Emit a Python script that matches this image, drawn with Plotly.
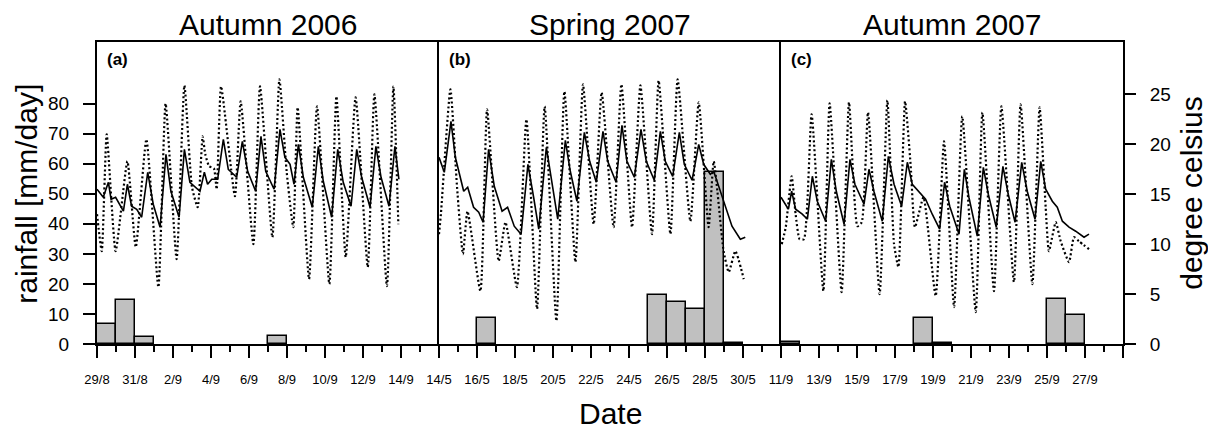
import plotly.graph_objects as go
from plotly.subplots import make_subplots

# ---------------- data ----------------
panel_titles = ["Autumn 2006", "Spring 2007", "Autumn 2007"]
panel_tags = ["(a)", "(b)", "(c)"]

labels_a = ["29/8", "31/8", "2/9", "4/9", "6/9", "8/9", "10/9", "12/9", "14/9"]
labels_b = ["14/5", "16/5", "18/5", "20/5", "22/5", "24/5", "26/5", "28/5", "30/5"]
labels_c = ["11/9", "13/9", "15/9", "17/9", "19/9", "21/9", "23/9", "25/9", "27/9"]

# daily rainfall [mm/day], one value per day from the first date of each panel
rain_a = [6.5, 14.5, 2.3, 0, 0, 0, 0, 0, 0, 2.6, 0, 0, 0, 0, 0, 0]
rain_b = [0, 0, 8.8, 0, 0, 0, 0, 0, 0, 0, 0, 16.2, 14.1, 11.5, 57.3, 0.4]
rain_c = [0.8, 0, 0, 0, 0, 0, 0, 8.5, 0.3, 0, 0, 0, 0, 0, 14.9, 9.8]

# temperatures (time in days since first date of the panel, degree celsius)
dotted_a = [(0.0, 13.0), (0.25, 9.3), (0.51, 21.0), (0.98, 9.3), (1.6, 18.3), (2.04, 9.7),
            (2.6, 20.5), (3.23, 5.7), (3.61, 24.1), (4.19, 8.5), (4.6, 25.9), (5.0, 15.7),
            (5.3, 13.7), (5.56, 20.8), (5.7, 19.0), (5.9, 17.8), (6.15, 17.6), (6.3, 15.5),
            (6.53, 25.8), (7.26, 14.8), (7.56, 24.3), (8.23, 10.0), (8.58, 25.8), (9.23, 10.7),
            (9.6, 26.5), (9.98, 17.3), (10.33, 11.7), (10.56, 23.7), (11.16, 6.5), (11.58, 23.8),
            (12.23, 6.0), (12.6, 24.8), (13.09, 8.7), (13.61, 24.7), (14.25, 7.7), (14.6, 25.0),
            (15.26, 5.8), (15.6, 25.8), (15.86, 12.0)]
solid_a = [(0.0, 15.5), (0.33, 14.7), (0.6, 16.2), (0.74, 14.5), (0.98, 14.7), (1.12, 14.2),
           (1.39, 13.3), (1.6, 16.0), (1.82, 13.8), (2.09, 13.5), (2.35, 12.7), (2.67, 17.2),
           (2.96, 14.0), (3.32, 11.7), (3.63, 19.0), (3.89, 15.3), (4.32, 12.7), (4.6, 19.5),
           (4.89, 16.2), (5.42, 15.3), (5.65, 17.2), (5.82, 16.0), (6.04, 16.5), (6.35, 16.5),
           (6.65, 20.5), (6.91, 17.5), (7.35, 16.7), (7.65, 20.3), (7.93, 17.3), (8.35, 15.3),
           (8.63, 20.8), (8.88, 17.3), (9.32, 15.5), (9.63, 21.5), (9.89, 18.7), (10.16, 18.0),
           (10.37, 16.0), (10.6, 20.0), (10.86, 16.7), (11.33, 13.7), (11.65, 19.8), (11.91, 16.3),
           (12.35, 12.7), (12.67, 19.5), (12.96, 16.2), (13.37, 13.8), (13.67, 19.5), (13.93, 16.7),
           (14.37, 13.7), (14.68, 19.8), (14.95, 16.7), (15.37, 13.8), (15.68, 19.8), (15.89, 16.5)]

dotted_b = [(0.0, 11.0), (0.1, 13.0), (0.6, 25.5), (0.95, 15.7), (1.26, 9.0), (1.5, 13.3),
            (2.18, 5.3), (2.53, 23.5), (3.14, 8.3), (3.5, 12.2), (4.1, 5.7), (4.6, 22.5),
            (5.16, 3.5), (5.56, 23.8), (6.18, 2.3), (6.6, 25.3), (7.18, 8.2), (7.58, 26.0),
            (8.14, 12.0), (8.56, 25.2), (9.19, 11.7), (9.6, 26.0), (10.16, 11.7), (10.6, 25.9),
            (11.21, 11.0), (11.56, 26.4), (12.18, 11.0), (12.56, 26.5), (13.23, 12.3), (13.67, 24.2),
            (14.19, 11.7), (14.46, 18.3), (14.98, 9.3), (15.25, 7.2), (15.6, 9.3), (16.04, 6.5)]
solid_b = [(0.0, 18.7), (0.28, 17.2), (0.63, 22.3), (0.86, 18.7), (1.3, 15.3), (1.51, 15.7),
           (1.82, 13.7), (2.09, 13.2), (2.32, 12.2), (2.61, 19.5), (2.91, 15.8), (3.32, 13.3),
           (3.61, 13.7), (3.96, 11.8), (4.32, 11.0), (4.68, 18.0), (4.98, 14.7), (5.25, 11.5),
           (5.65, 19.7), (5.95, 16.0), (6.25, 12.5), (6.65, 20.4), (6.91, 17.3), (7.26, 14.3),
           (7.65, 21.2), (7.93, 18.3), (8.28, 16.2), (8.63, 21.3), (8.88, 18.3), (9.32, 16.2),
           (9.63, 21.9), (9.89, 18.3), (10.28, 16.7), (10.63, 21.5), (10.91, 18.3), (11.33, 16.4),
           (11.65, 21.3), (11.91, 18.3), (12.3, 16.8), (12.65, 21.2), (12.91, 18.0), (13.32, 16.4),
           (13.67, 20.0), (13.93, 18.0), (14.28, 17.0), (14.46, 17.3), (14.72, 15.8), (15.07, 13.8),
           (15.42, 11.8), (15.86, 10.5), (16.12, 10.7)]

dotted_c = [(0.04, 10.0), (0.25, 11.7), (0.56, 16.8), (0.77, 13.0), (0.98, 10.5), (1.21, 10.5),
            (1.61, 23.0), (2.23, 5.3), (2.56, 24.1), (3.19, 5.2), (3.58, 24.2), (4.02, 11.8),
            (4.25, 12.2), (4.58, 23.2), (5.19, 5.0), (5.6, 24.4), (5.95, 10.0), (6.18, 7.7),
            (6.53, 24.3), (6.82, 18.0), (7.05, 11.7), (7.5, 14.7), (8.14, 4.8), (8.58, 20.3),
            (9.11, 3.7), (9.54, 22.8), (10.25, 3.2), (10.6, 23.2), (11.21, 5.3), (11.6, 23.8),
            (12.26, 6.2), (12.61, 24.0), (13.23, 6.0), (13.61, 23.7), (13.93, 13.7), (14.1, 9.3),
            (14.46, 12.2), (14.72, 10.3), (15.16, 8.2), (15.42, 10.7), (15.68, 10.3), (16.21, 9.5)]
solid_c = [(0.0, 14.7), (0.39, 13.5), (0.56, 15.3), (0.77, 13.5), (1.12, 13.0), (1.39, 12.5),
           (1.65, 16.8), (1.91, 14.3), (2.35, 12.3), (2.65, 18.5), (2.91, 15.3), (3.32, 12.0),
           (3.63, 18.5), (3.89, 16.0), (4.37, 14.0), (4.63, 17.5), (4.89, 15.3), (5.33, 12.3),
           (5.65, 18.8), (5.95, 16.0), (6.35, 13.8), (6.65, 18.2), (6.91, 16.0), (7.26, 15.3),
           (7.61, 14.5), (7.96, 13.0), (8.35, 11.5), (8.61, 16.2), (8.88, 13.8), (9.37, 11.0),
           (9.65, 17.5), (9.89, 14.7), (10.33, 10.8), (10.65, 17.7), (10.91, 15.0), (11.33, 11.7),
           (11.68, 17.8), (11.96, 15.0), (12.32, 12.2), (12.67, 18.2), (12.96, 15.3), (13.37, 12.5),
           (13.67, 18.3), (13.93, 15.5), (14.28, 14.3), (14.54, 13.7), (14.81, 12.3), (15.16, 11.7),
           (15.51, 11.3), (15.95, 10.7), (16.21, 11.0)]

rain_ticks = [0, 10, 20, 30, 40, 50, 60, 70, 80]
temp_ticks = [0, 5, 10, 15, 20, 25]

# ---------------- figure ----------------
OFF = 8                      # page body margin of the browser
W, H = 1216 - OFF, 429 - OFF
PLOT_L, PLOT_R, PLOT_T, PLOT_B = 97, 1123, 42, 344.5   # wanted screen positions
ML, MR = PLOT_L - OFF, W - (PLOT_R - OFF)
MT, MB = PLOT_T - OFF, H - (PLOT_B - OFF)
PH = PLOT_B - PLOT_T
PW = PLOT_R - PLOT_L
FONT = "Liberation Sans, Arial, sans-serif"
BLACK = "#000000"

fig = make_subplots(rows=1, cols=3, horizontal_spacing=0,
                    specs=[[{"secondary_y": True}] * 3])

rains = [rain_a, rain_b, rain_c]
dotted = [dotted_a, dotted_b, dotted_c]
solid = [solid_a, solid_b, solid_c]
labels = [labels_a, labels_b, labels_c]

for i in range(3):
    col = i + 1
    r = rains[i]
    days = [d for d in range(len(r)) if r[d] > 0]
    fig.add_trace(go.Bar(x=[d + 0.5 for d in days], y=[r[d] for d in days], width=1,
                         marker=dict(color="#c0c0c0", line=dict(color=BLACK, width=1.5)),
                         showlegend=False), row=1, col=col, secondary_y=False)
    fig.add_trace(go.Scatter(x=[p[0] for p in dotted[i]], y=[p[1] for p in dotted[i]],
                             mode="lines",
                             line=dict(color=BLACK, width=2.2, dash="2px,2.5px",
                                       shape="spline", smoothing=0.5),
                             showlegend=False), row=1, col=col, secondary_y=True)
    fig.add_trace(go.Scatter(x=[p[0] for p in solid[i]], y=[p[1] for p in solid[i]],
                             mode="lines", line=dict(color=BLACK, width=1.6),
                             showlegend=False), row=1, col=col, secondary_y=True)

    xa = "xaxis" if i == 0 else f"xaxis{col}"
    fig.layout[xa].update(
        domain=[i / 3, (i + 1) / 3],
        range=[0, 18], tickmode="array", tickvals=[2 * k for k in range(10)],
        ticktext=labels[i] + [""], ticks="outside", ticklen=12, tickwidth=1.5, tickcolor=BLACK,
        showline=True, linewidth=2, linecolor=BLACK, mirror=True, showgrid=False, zeroline=False,
        tickfont=dict(family=FONT, size=13, color=BLACK), ticklabelstandoff=10,
        minor=dict(tickmode="linear", tick0=0, dtick=1, ticks="outside", ticklen=6,
                   tickwidth=1.5, tickcolor=BLACK, showgrid=False),
    )
    ya = "yaxis" if i == 0 else f"yaxis{2 * i + 1}"
    yb = f"yaxis{2 * i + 2}"
    fig.layout[ya].update(
        domain=[0, 1],
        range=[0, PH / 3.01], showline=True, linewidth=2, linecolor=BLACK, mirror=(i == 2),
        showgrid=False, zeroline=False,
        tickmode="array", tickvals=rain_ticks,
        ticks="outside" if i == 0 else "", ticklen=12, tickwidth=1.5, tickcolor=BLACK,
        showticklabels=(i == 0), tickfont=dict(family=FONT, size=19, color=BLACK),
        ticklabelstandoff=10,
    )
    fig.layout[yb].update(
        range=[0, PH / 10.0], showgrid=False, zeroline=False, showline=False,
        visible=(i == 2), tickmode="array", tickvals=temp_ticks,
        ticks="outside", ticklen=12, tickwidth=1.5, tickcolor=BLACK,
        tickfont=dict(family=FONT, size=19, color=BLACK), ticklabelstandoff=10,
    )


def py(ypix):
    return (PLOT_B - ypix) / PH


def px(xpix):
    return (xpix - PLOT_L) / PW


annotations = []
for i in range(3):
    annotations.append(dict(text=panel_titles[i], x=(2 * i + 1) / 6, y=py(24.5), xref="paper",
                            yref="paper", xanchor="center", yanchor="middle", showarrow=False,
                            font=dict(family=FONT, size=30, color=BLACK)))
    annotations.append(dict(text="<b>" + panel_tags[i] + "</b>", x=px(PLOT_L + 342 * i + 8),
                            y=py(60), xref="paper", yref="paper", xanchor="left",
                            yanchor="middle", showarrow=False,
                            font=dict(family=FONT, size=17, color=BLACK)))
annotations.append(dict(text="Date", x=0.5, y=py(414), xref="paper", yref="paper",
                        xanchor="center", yanchor="middle", showarrow=False,
                        font=dict(family=FONT, size=30, color=BLACK)))
annotations.append(dict(text="rainfall [mm/day]", x=px(27), y=py(194), xref="paper", yref="paper",
                        xanchor="center", yanchor="middle", textangle=-90, showarrow=False,
                        font=dict(family=FONT, size=30, color=BLACK)))
annotations.append(dict(text="degree celsius", x=px(1192), y=py(194), xref="paper", yref="paper",
                        xanchor="center", yanchor="middle", textangle=-90, showarrow=False,
                        font=dict(family=FONT, size=30, color=BLACK)))

fig.update_layout(
    width=W, height=H, template="none",
    margin=dict(l=ML, r=MR, t=MT, b=MB, pad=0, autoexpand=False),
    paper_bgcolor="white", plot_bgcolor="white",
    bargap=0, showlegend=False, annotations=annotations,
    font=dict(family=FONT, color=BLACK),
)

fig.write_html("out.html")
